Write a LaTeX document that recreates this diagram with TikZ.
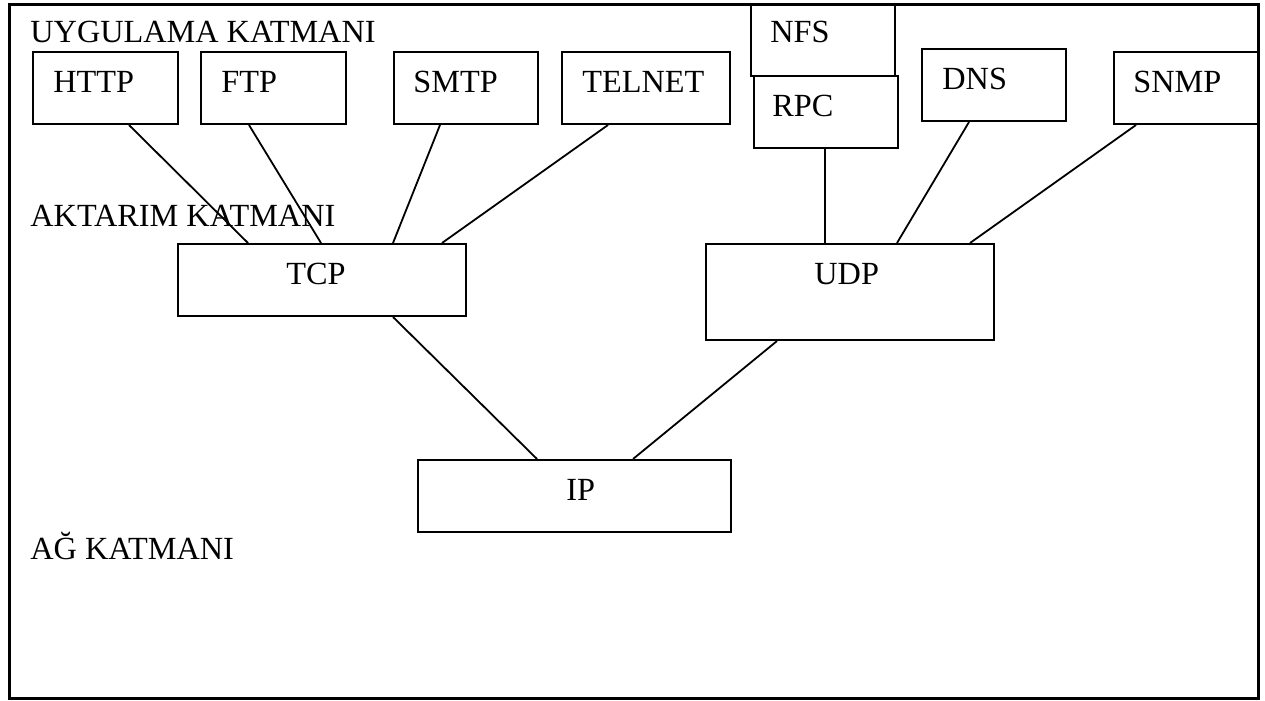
\documentclass[tikz,border=0pt]{standalone}
\usepackage{fontspec}
\setmainfont{Liberation Serif}
\usetikzlibrary{calc}
\begin{document}
\begin{tikzpicture}[x=0.5bp,y=-0.5bp,
  box/.style={draw=black,line width=1bp,inner sep=0pt,anchor=north west},
  lbl/.style={anchor=base west,inner sep=0pt,font=\fontsize{16.2}{19}\selectfont},
  conn/.style={draw=black,line width=0.9bp}]
\useasboundingbox (0,0) rectangle (1265,700);
\node[draw=black,line width=1.3bp,inner sep=0pt,anchor=north west,minimum width=624.5bp,minimum height=347bp] (frame) at (8,3) {};
% layer labels
\node[lbl] (uyg) at (30,43) {UYGULAMA KATMANI};
\node[lbl] (akt) at (30,226) {AKTARIM KATMANI};
\node[lbl] (ag) at (30,559) {AĞ KATMANI};
% application boxes
\node[box,minimum width=72.5bp,minimum height=36bp] (http) at (32,51) {};
\node[lbl] (httpt) at (53,93) {HTTP};
\node[box,minimum width=72.5bp,minimum height=36bp] (ftp) at (200,51) {};
\node[lbl] (ftpt) at (221,93) {FTP};
\node[box,minimum width=72bp,minimum height=36bp] (smtp) at (393,51) {};
\node[lbl] (smtpt) at (413,93) {SMTP};
\node[box,minimum width=84bp,minimum height=36bp] (telnet) at (561,51) {};
\node[lbl] (telnett) at (582,93) {TELNET};
\node[box,minimum width=72bp,minimum height=36bp] (nfs) at (750,3) {};
\node[lbl] (nfst) at (770,43) {NFS};
\node[box,minimum width=72bp,minimum height=36bp] (rpc) at (753,75) {};
\node[lbl] (rpct) at (772,117) {RPC};
\node[box,minimum width=72bp,minimum height=36bp] (dns) at (921,48) {};
\node[lbl] (dnst) at (942,90) {DNS};
\node[box,minimum width=72bp,minimum height=36bp] (snmp) at (1113,51) {};
\node[lbl] (snmpt) at (1133,93) {SNMP};
% transport boxes
\node[box,minimum width=144bp,minimum height=36bp] (tcp) at (177,243) {};
\node[lbl] (tcpt) at (286,284) {TCP};
\node[box,minimum width=144bp,minimum height=48bp] (udp) at (705,243) {};
\node[lbl] (udpt) at (814,284) {UDP};
% network box
\node[box,minimum width=156.5bp,minimum height=36bp] (ip) at (417,459) {};
\node[lbl] (ipt) at (566,500) {IP};
% connectors
\draw[conn] ($(http.south west)+(97,0)$) -- ($(tcp.north west)+(71,0)$);
\draw[conn] ($(ftp.south west)+(49,0)$) -- ($(tcp.north west)+(144,0)$);
\draw[conn] ($(smtp.south west)+(47,0)$) -- ($(tcp.north west)+(216,0)$);
\draw[conn] ($(telnet.south west)+(47,0)$) -- ($(tcp.north west)+(265,0)$);
\draw[conn] ($(rpc.south west)+(72,0)$) -- ($(udp.north west)+(120,0)$);
\draw[conn] ($(dns.south west)+(48,0)$) -- ($(udp.north west)+(192,0)$);
\draw[conn] ($(snmp.south west)+(23,0)$) -- ($(udp.north west)+(265,0)$);
\draw[conn] ($(tcp.south west)+(216,0)$) -- ($(ip.north west)+(120,0)$);
\draw[conn] ($(udp.south west)+(72,0)$) -- ($(ip.north west)+(216,0)$);
\end{tikzpicture}
\end{document}
